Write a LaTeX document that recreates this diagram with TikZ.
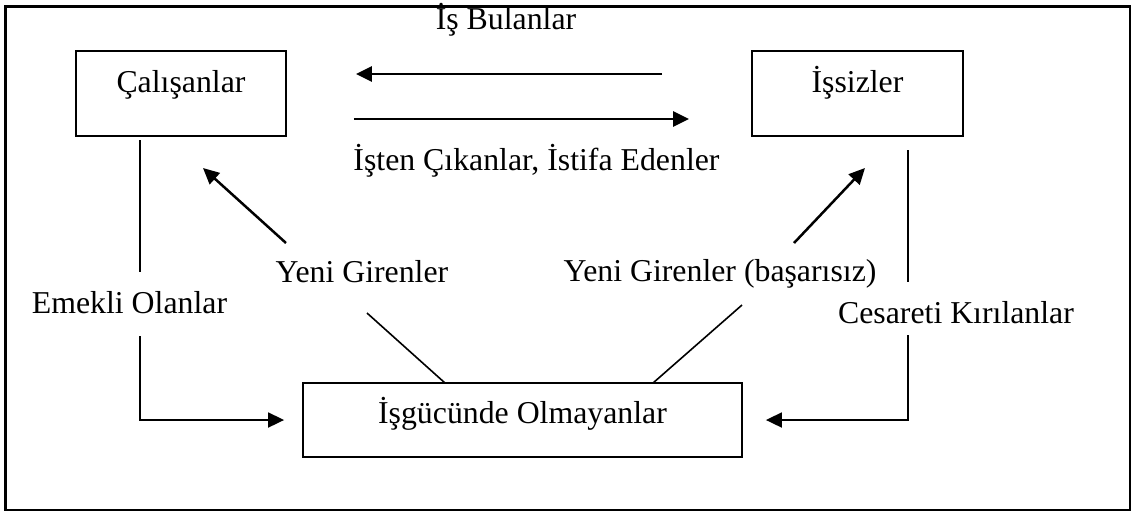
\documentclass[tikz,border=0pt]{standalone}
\usepackage{fontspec}
\setmainfont{Liberation Serif}
\usetikzlibrary{arrows.meta,calc}
\begin{document}
\begin{tikzpicture}[x=0.5pt,y=-0.5pt,
  font=\fontsize{15.9}{19}\selectfont,
  box/.style={draw, line width=0.9pt, inner sep=0pt},
  lbl/.style={anchor=base, inner sep=0pt},
  arr/.style={line width=1.25pt, -{Triangle[length=8pt,width=7.5pt]}},
  thinln/.style={line width=0.8pt},
  thinarr/.style={line width=0.9pt, -{Triangle[length=8pt,width=7.5pt]}}]
\useasboundingbox (0,0) rectangle (1136,511);
\draw[line width=1.2pt] (5.5,6.5) rectangle (1130,510);

% boxes
\node[box, minimum width=105pt, minimum height=42.5pt, text height=8pt, text depth=9.5pt] (cal) at (181,93.5) {Çalışanlar};
\node[box, minimum width=105.5pt, minimum height=42.5pt, text height=8pt, text depth=9.5pt] (iss) at (857.5,93.5) {İşsizler};
\node[box, minimum width=219.5pt, minimum height=37pt, text height=11pt, text depth=8pt] (isg) at (522.5,420) {İşgücünde Olmayanlar};

% labels
\node[lbl] (bul) at (506,29) {İş Bulanlar};
\node[lbl] (cik) at (536.5,170) {İşten Çıkanlar, İstifa Edenler};
\node[lbl] (yg) at (362,282) {Yeni Girenler};
\node[lbl] (ygb) at (720,281) {Yeni Girenler (başarısız)};
\node[lbl] (emk) at (129.5,313) {Emekli Olanlar};
\node[lbl] (ces) at (956,323) {Cesareti Kırılanlar};

% helper coordinates
\coordinate (l1) at (140,140);
\coordinate (l2) at (140,272);
\coordinate (l3) at (140,336);
\coordinate (r1) at (908,150);
\coordinate (r2) at (908,282);
\coordinate (r3) at (908,335);
\coordinate (ya) at (286,243);
\coordinate (yt) at (203,168);
\coordinate (yb) at (367,313);
\coordinate (yc) at (445,383);
\coordinate (ba) at (794,243);
\coordinate (bt) at (865,168);
\coordinate (bb) at (742,305);
\coordinate (bc) at (653,383);

% horizontal flows
\draw[arr, shorten <=44.5pt, shorten >=34.5pt] (iss.west |- 0,74) -- (cal.east |- 0,74);
\draw[arr, shorten <=33.5pt, shorten >=31pt] (cal.east |- 0,119) -- (iss.west |- 0,119);

% new entrants
\draw[arr] (ya) -- (yt);
\draw[thinln] (yb) -- (yc);
\draw[arr] (ba) -- (bt);
\draw[thinln] (bb) -- (bc);

% retired
\draw[thinln] (l1) -- (l2);
\draw[thinarr, shorten >=9pt] (l3) |- (isg.west);
% discouraged
\draw[thinln] (r1) -- (r2);
\draw[thinarr, shorten >=11.5pt] (r3) |- (isg.east);
\end{tikzpicture}
\end{document}
